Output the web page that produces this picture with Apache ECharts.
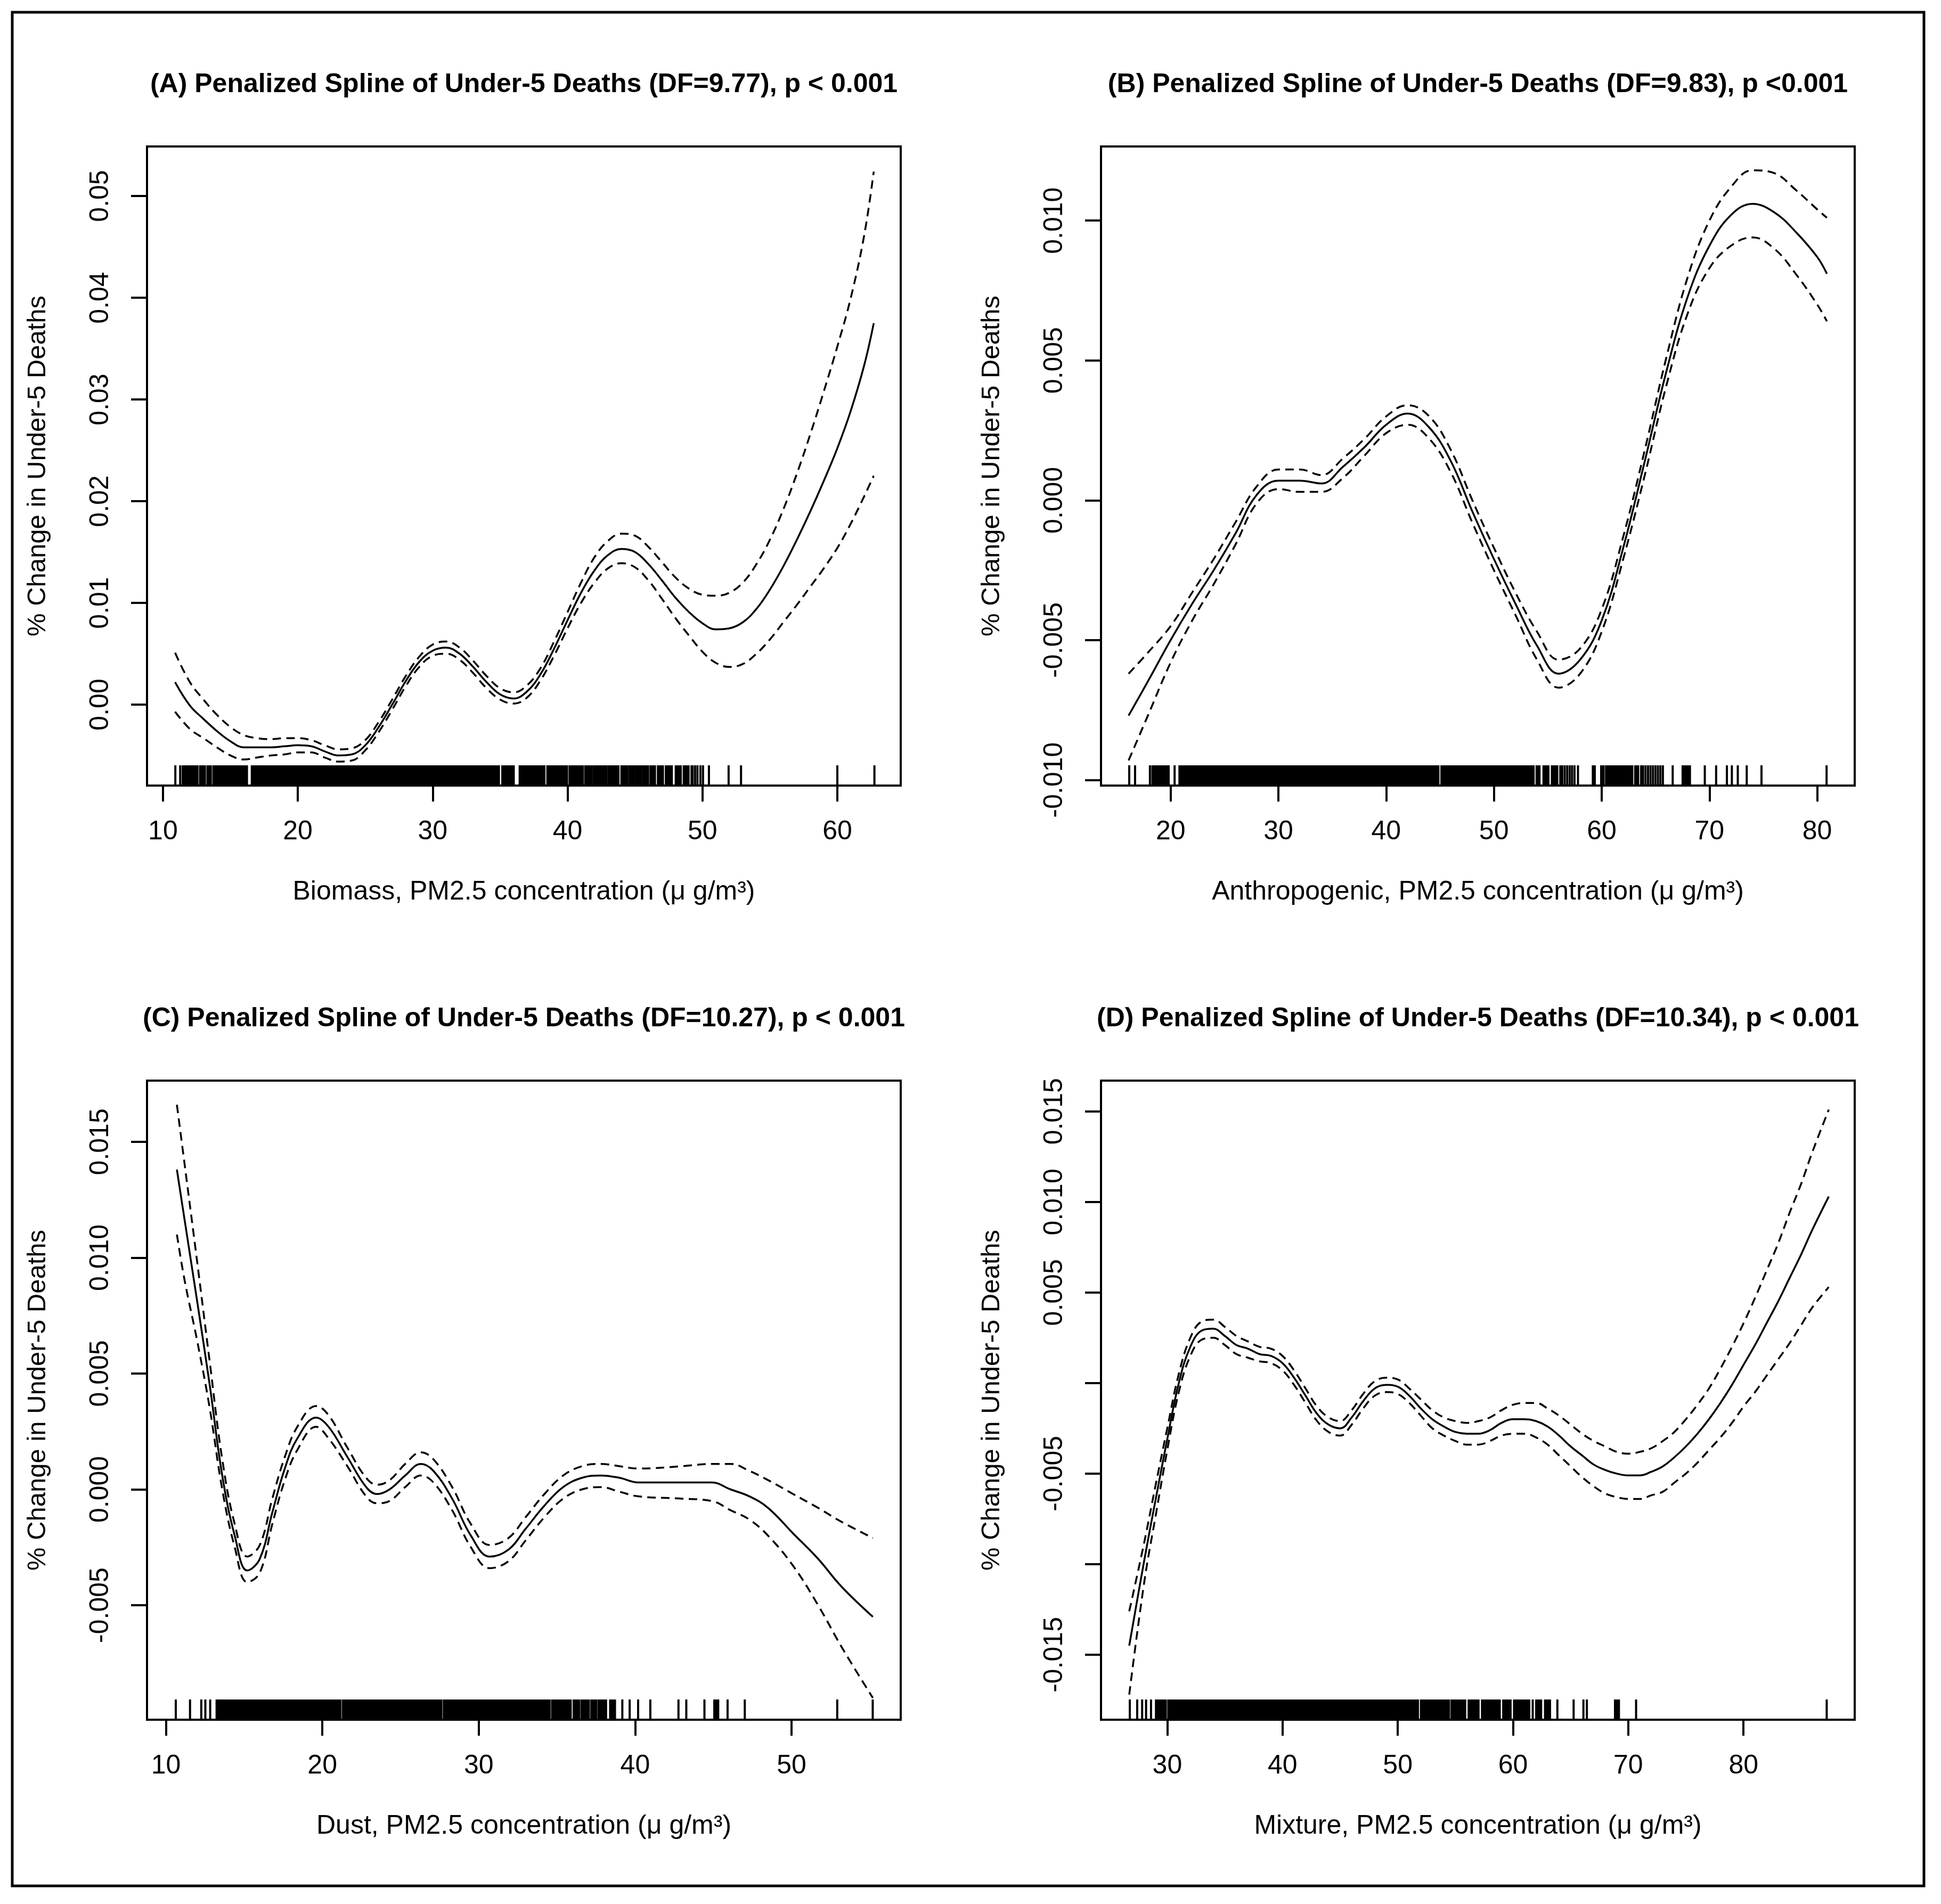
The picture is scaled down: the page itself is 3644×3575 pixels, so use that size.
<!DOCTYPE html>
<html>
<head>
<meta charset="utf-8">
<script src="https://cdn.jsdelivr.net/npm/echarts@6/dist/echarts.min.js"></script>
<style>
html,body{margin:0;padding:0;background:#fff;}
#chart{width:3644px;height:3575px;}
</style>
</head>
<body>
<div id="chart"></div>
<script>
// ---------------- DATA ----------------
const panelTitles = [
  '(A) Penalized Spline of Under-5 Deaths (DF=9.77), p < 0.001',
  '(B) Penalized Spline of Under-5 Deaths (DF=9.83), p <0.001',
  '(C) Penalized Spline of Under-5 Deaths (DF=10.27), p < 0.001',
  '(D) Penalized Spline of Under-5 Deaths (DF=10.34), p < 0.001'
];
const xAxisNames = [
  'Biomass, PM2.5 concentration (\u03bc g/m\u00b3)',
  'Anthropogenic, PM2.5 concentration (\u03bc g/m\u00b3)',
  'Dust, PM2.5 concentration (\u03bc g/m\u00b3)',
  'Mixture, PM2.5 concentration (\u03bc g/m\u00b3)'
];
const yAxisName = '% Change in Under-5 Deaths';

// Panel A: Biomass
const biomassX = [10.9,12,13,14,15,16,17,18,19,20,21,22,23,24,25,26,27,28,29,30,31,32,33,34,35,36,37,38,39,40,41,42,43,44,45,46,47,48,49,50,51,52,53,54,55,56,57,58,59,60,61,62,62.7];
const biomassFit = [0.0022,-0.0001,-0.0014,-0.0026,-0.0036,-0.0042,-0.0042,-0.0042,-0.0041,-0.0040,-0.0041,-0.0046,-0.0050,-0.0049,-0.0040,-0.0022,0.0000,0.0023,0.0042,0.0053,0.0056,0.0050,0.0037,0.0022,0.0010,0.0006,0.0013,0.0030,0.0055,0.0083,0.0110,0.0132,0.0147,0.0153,0.0150,0.0138,0.0122,0.0105,0.0091,0.0080,0.0074,0.0075,0.0081,0.0094,0.0113,0.0136,0.0162,0.0190,0.0220,0.0252,0.0289,0.0334,0.0375];
const biomassUpper = [0.0051,0.0022,0.0005,-0.0010,-0.0022,-0.0030,-0.0033,-0.0034,-0.0033,-0.0033,-0.0035,-0.0040,-0.0044,-0.0043,-0.0035,-0.0017,0.0005,0.0028,0.0047,0.0059,0.0062,0.0056,0.0043,0.0028,0.0016,0.0012,0.0019,0.0036,0.0062,0.0091,0.0120,0.0145,0.0161,0.0168,0.0166,0.0155,0.0140,0.0125,0.0114,0.0108,0.0107,0.0110,0.0120,0.0138,0.0162,0.0192,0.0227,0.0266,0.0308,0.0352,0.0400,0.0462,0.0524];
const biomassLower = [-0.0007,-0.0024,-0.0033,-0.0042,-0.0050,-0.0054,-0.0052,-0.0050,-0.0049,-0.0047,-0.0047,-0.0052,-0.0056,-0.0055,-0.0045,-0.0027,-0.0005,0.0018,0.0037,0.0048,0.0050,0.0044,0.0031,0.0016,0.0005,0.0001,0.0007,0.0024,0.0048,0.0075,0.0100,0.0120,0.0134,0.0139,0.0135,0.0122,0.0104,0.0085,0.0068,0.0052,0.0041,0.0037,0.0040,0.0050,0.0064,0.0081,0.0098,0.0116,0.0134,0.0154,0.0178,0.0205,0.0225];
const biomassRug = [[10.92,10.92],[11.28,11.28],[11.47,12.56],[12.75,13.11],[13.30,13.55],[13.74,16.23],[16.59,34.91],[35.16,36.01],[36.45,38.28],[38.50,39.96],[40.15,41.14],[41.32,41.79],[41.94,42.89],[43.04,43.26],[43.41,43.77],[43.99,44.43],[44.58,44.95],[45.09,45.46],[45.60,45.97],[46.15,46.48],[46.70,47.07],[47.29,47.73],[48.02,48.39],[48.61,48.97],[49.19,49.27],[49.45,49.45],[49.63,49.63],[49.85,49.85],[50.04,50.04],[50.48,50.48],[51.94,51.94],[52.86,52.86],[60.0,60.0],[62.75,62.75]];
const biomassXRange = [8.82, 64.7];
const biomassYRange = [-0.00796, 0.05487];
const biomassXTicks = [10,20,30,40,50,60];
const biomassYTicks = [0,0.01,0.02,0.03,0.04,0.05];
const biomassYLabelTicks = [0,0.01,0.02,0.03,0.04,0.05];
const biomassYLabels = ['0.00','0.01','0.02','0.03','0.04','0.05'];

// Panel B: Anthropogenic
const anthroX = [16.1,18,20,22,24,26,28,30,32,34,36,38,40,42,44,46,48,50,52,54,56,58,60,62,64,66,68,70,72,74,76,78,80,80.9];
const anthroFit = [-0.0077,-0.0064,-0.0050,-0.0037,-0.0025,-0.0012,0.0002,0.0007,0.0007,0.0006,0.0012,0.0019,0.0027,0.0031,0.0026,0.0014,-0.0004,-0.0021,-0.0037,-0.0052,-0.0062,-0.0057,-0.0043,-0.0017,0.0014,0.0046,0.0073,0.0091,0.0102,0.0106,0.0103,0.0096,0.0087,0.0081];
const anthroUpper = [-0.0062,-0.0054,-0.0045,-0.0033,-0.0021,-0.0008,0.0005,0.0011,0.0011,0.0009,0.0015,0.0022,0.0030,0.0034,0.0030,0.0018,0.0000,-0.0017,-0.0033,-0.0047,-0.0057,-0.0053,-0.0039,-0.0013,0.0018,0.0051,0.0080,0.0100,0.0112,0.0118,0.0117,0.0111,0.0104,0.0101];
const anthroLower = [-0.0093,-0.0076,-0.0058,-0.0043,-0.0030,-0.0016,-0.0001,0.0004,0.0003,0.0003,0.0008,0.0016,0.0024,0.0027,0.0022,0.0010,-0.0008,-0.0025,-0.0041,-0.0057,-0.0067,-0.0062,-0.0047,-0.0021,0.0009,0.0041,0.0067,0.0083,0.0091,0.0094,0.0090,0.0081,0.0070,0.0064];
const anthroRug = [[16.16,16.16],[16.70,16.70],[18.08,18.08],[18.31,19.82],[20.37,20.37],[20.82,44.85],[45.13,53.68],[53.96,54.23],[54.60,55.06],[55.38,55.88],[56.16,56.34],[56.57,56.57],[56.80,56.80],[57.03,57.03],[57.25,57.25],[57.48,57.48],[57.80,57.80],[59.18,59.36],[59.95,60.18],[60.41,61.10],[61.28,62.84],[63.11,63.39],[63.66,63.84],[64.07,64.07],[64.30,64.30],[64.53,64.53],[64.76,64.76],[64.99,64.99],[65.22,65.22],[65.45,65.45],[65.68,65.68],[66.59,66.59],[67.51,68.19],[69.57,69.57],[70.62,70.62],[71.62,71.62],[72.08,72.08],[72.63,72.63],[73.46,73.46],[74.83,74.83],[80.87,80.87]];
const anthroXRange = [13.54, 83.48];
const anthroYRange = [-0.0102, 0.01265];
const anthroXTicks = [20,30,40,50,60,70,80];
const anthroYTicks = [-0.010,-0.005,0,0.005,0.010];
const anthroYLabelTicks = [-0.010,-0.005,0,0.005,0.010];
const anthroYLabels = ['-0.010','-0.005','0.000','0.005','0.010'];

// Panel C: Dust
const dustX = [10.7,11.2,12,12.8,13.6,14.4,15.2,16,16.8,17.6,18.4,19.6,20.4,21.6,22.8,23.5,24.3,25.3,26.3,27.1,28.3,29.5,30.7,31.9,33,34.2,35.4,36.6,37.8,39,40.2,43,44.9,46.1,47.3,48.5,50.1,51.7,53.2,55.2];
const dustFit = [0.0138,0.0116,0.0081,0.0045,0.0006,-0.0020,-0.0035,-0.0030,-0.0010,0.0009,0.0022,0.0031,0.0027,0.0014,0.0001,-0.0002,0.0000,0.0006,0.0011,0.0008,-0.0004,-0.0020,-0.0029,-0.0026,-0.0017,-0.0007,0.0001,0.0005,0.0006,0.0005,0.0003,0.0003,0.0003,0.0000,-0.0003,-0.0008,-0.0019,-0.0030,-0.0042,-0.0055];
const dustUpper = [0.0166,0.0140,0.0098,0.0055,0.0013,-0.0015,-0.0029,-0.0024,-0.0004,0.0014,0.0027,0.0036,0.0032,0.0018,0.0005,0.0002,0.0004,0.0011,0.0016,0.0013,0.0001,-0.0015,-0.0024,-0.0021,-0.0012,-0.0002,0.0006,0.0010,0.0011,0.0010,0.0009,0.0010,0.0011,0.0011,0.0008,0.0004,-0.0002,-0.0008,-0.0014,-0.0021];
const dustLower = [0.0110,0.0090,0.0064,0.0035,0.0000,-0.0025,-0.0040,-0.0036,-0.0015,0.0004,0.0017,0.0027,0.0022,0.0010,-0.0003,-0.0006,-0.0005,0.0001,0.0006,0.0003,-0.0009,-0.0025,-0.0034,-0.0031,-0.0022,-0.0012,-0.0004,0.0000,0.0001,-0.0001,-0.0003,-0.0004,-0.0005,-0.0009,-0.0013,-0.0020,-0.0033,-0.0050,-0.0068,-0.0090];
const dustRug = [[10.63,10.63],[11.54,11.54],[12.26,12.26],[12.52,12.52],[12.83,12.83],[13.24,21.16],[21.32,27.61],[27.77,34.53],[34.69,35.88],[36.07,36.42],[36.57,37.04],[37.20,37.52],[37.67,38.14],[38.40,38.71],[39.18,39.18],[39.65,39.65],[40.19,40.19],[40.97,40.97],[42.77,42.77],[43.27,43.27],[44.43,44.43],[45.06,45.31],[45.91,45.91],[47.01,47.01],[52.92,52.92],[55.19,55.19]];
const dustXRange = [8.79, 56.98];
const dustYRange = [-0.00994, 0.01764];
const dustXTicks = [10,20,30,40,50];
const dustYTicks = [-0.005,0,0.005,0.010,0.015];
const dustYLabelTicks = [-0.005,0,0.005,0.010,0.015];
const dustYLabels = ['-0.005','0.000','0.005','0.010','0.015'];

// Panel D: Mixture
const mixtureX = [26.7,28,29,30,31,32,33,34,35,36,37,38,39,40,41,42,43,44,45,46,47,48,49,50,51,52,53,54,55,56,57,58,59,60,61,62,63,64,65,66,67,68,69,70,71,72,73,74,75,76,77,78,79,80,81,82,83,84,85,86,87.4];
const mixtureFit = [-0.0145,-0.0098,-0.0064,-0.0031,0.0000,0.0020,0.0029,0.0030,0.0026,0.0021,0.0019,0.0016,0.0015,0.0011,0.0003,-0.0007,-0.0017,-0.0023,-0.0025,-0.0019,-0.0010,-0.0003,-0.0001,-0.0002,-0.0007,-0.0014,-0.0020,-0.0024,-0.0027,-0.0028,-0.0028,-0.0026,-0.0022,-0.0020,-0.0020,-0.0021,-0.0024,-0.0029,-0.0035,-0.0040,-0.0045,-0.0048,-0.0050,-0.0051,-0.0051,-0.0049,-0.0046,-0.0041,-0.0035,-0.0028,-0.0020,-0.0011,-0.0001,0.0010,0.0021,0.0033,0.0045,0.0058,0.0071,0.0085,0.0103];
const mixtureUpper = [-0.0126,-0.0088,-0.0056,-0.0025,0.0005,0.0025,0.0034,0.0035,0.0031,0.0026,0.0023,0.0020,0.0019,0.0015,0.0007,-0.0003,-0.0013,-0.0019,-0.0021,-0.0015,-0.0006,0.0001,0.0003,0.0002,-0.0003,-0.0009,-0.0015,-0.0019,-0.0021,-0.0022,-0.0021,-0.0019,-0.0015,-0.0012,-0.0011,-0.0011,-0.0014,-0.0018,-0.0023,-0.0028,-0.0032,-0.0035,-0.0038,-0.0039,-0.0038,-0.0036,-0.0032,-0.0027,-0.0020,-0.0012,-0.0003,0.0008,0.0020,0.0033,0.0047,0.0062,0.0077,0.0094,0.0110,0.0128,0.0151];
const mixtureLower = [-0.0172,-0.0110,-0.0073,-0.0037,-0.0005,0.0015,0.0024,0.0025,0.0021,0.0016,0.0014,0.0012,0.0011,0.0007,-0.0001,-0.0011,-0.0021,-0.0027,-0.0029,-0.0023,-0.0014,-0.0007,-0.0005,-0.0006,-0.0011,-0.0018,-0.0025,-0.0029,-0.0032,-0.0034,-0.0034,-0.0032,-0.0029,-0.0028,-0.0028,-0.0030,-0.0034,-0.0040,-0.0046,-0.0052,-0.0057,-0.0061,-0.0063,-0.0064,-0.0064,-0.0062,-0.0060,-0.0055,-0.0050,-0.0044,-0.0037,-0.0030,-0.0022,-0.0013,-0.0005,0.0004,0.0013,0.0022,0.0032,0.0042,0.0053];
const mixtureRug = [[26.75,26.75],[27.39,27.39],[27.82,27.82],[28.16,28.16],[28.59,28.59],[29.02,29.87],[30.09,51.75],[52.01,54.44],[54.66,55.85],[56.15,57.01],[57.31,58.85],[59.15,59.79],[60.09,61.41],[61.71,61.71],[62.01,62.44],[62.78,63.21],[63.85,63.85],[65.26,65.26],[66.11,66.11],[66.41,66.41],[68.85,69.19],[70.68,70.68],[87.22,87.22]];
const mixtureXRange = [24.25, 89.65];
const mixtureYRange = [-0.01859, 0.0167];
const mixtureXTicks = [30,40,50,60,70,80];
const mixtureYTicks = [-0.015,-0.010,-0.005,0,0.005,0.010,0.015];
const mixtureYLabelTicks = [-0.015,-0.005,0.005,0.010,0.015];
const mixtureYLabels = ['-0.015','-0.005','0.005','0.010','0.015'];

// ---------------- BUILD ----------------
const FONT = '"Liberation Sans", Arial, Helvetica, sans-serif';
const panels = [
  {x: biomassX, fit: biomassFit, up: biomassUpper, lo: biomassLower, rug: biomassRug, xr: biomassXRange, yr: biomassYRange, xt: biomassXTicks, yt: biomassYTicks, ylt: biomassYLabelTicks, yl: biomassYLabels},
  {x: anthroX, fit: anthroFit, up: anthroUpper, lo: anthroLower, rug: anthroRug, xr: anthroXRange, yr: anthroYRange, xt: anthroXTicks, yt: anthroYTicks, ylt: anthroYLabelTicks, yl: anthroYLabels},
  {x: dustX, fit: dustFit, up: dustUpper, lo: dustLower, rug: dustRug, xr: dustXRange, yr: dustYRange, xt: dustXTicks, yt: dustYTicks, ylt: dustYLabelTicks, yl: dustYLabels},
  {x: mixtureX, fit: mixtureFit, up: mixtureUpper, lo: mixtureLower, rug: mixtureRug, xr: mixtureXRange, yr: mixtureYRange, xt: mixtureXTicks, yt: mixtureYTicks, ylt: mixtureYLabelTicks, yl: mixtureYLabels}
];
// layout (positions of the plot boxes)
const boxes = [
  {left: 276, top: 275}, {left: 2067, top: 275},
  {left: 276, top: 2029}, {left: 2067, top: 2029}
];
const BOX_W = 1415, BOX_H = 1200;

const zip = (xs, ys) => xs.map((v, i) => [v, ys[i]]);

const grids = [], xAxes = [], yAxes = [], series = [], graphics = [];
panels.forEach((p, i) => {
  const b = boxes[i];
  grids.push({left: b.left, top: b.top, width: BOX_W, height: BOX_H, show: true,
    borderColor: '#000', borderWidth: 4, backgroundColor: 'transparent', containLabel: false, outerBoundsMode: 'none'});
  xAxes.push({
    type: 'value', gridIndex: i, min: p.xr[0], max: p.xr[1], position: 'bottom',
    axisLine: {show: false, onZero: false}, splitLine: {show: false},
    axisTick: {show: true, length: 30, customValues: p.xt, lineStyle: {color: '#000', width: 4}},
    axisLabel: {show: true, customValues: p.xt, margin: 62, color: '#000', fontSize: 50, fontFamily: FONT,
      formatter: v => String(Math.round(v))},
    name: xAxisNames[i], nameLocation: 'middle', nameGap: 175,
    nameTextStyle: {color: '#000', fontSize: 50, fontFamily: FONT}
  });
  const labelFor = v => {
    const k = p.ylt.findIndex(t => Math.abs(t - v) < 1e-9);
    return k >= 0 ? p.yl[k] : '';
  };
  yAxes.push({
    type: 'value', gridIndex: i, min: p.yr[0], max: p.yr[1], position: 'left',
    axisLine: {show: false, onZero: false}, splitLine: {show: false},
    axisTick: {show: true, length: 30, customValues: p.yt, lineStyle: {color: '#000', width: 4}},
    axisLabel: {show: true, customValues: p.ylt, rotate: 90, margin: 62, color: '#000', fontSize: 50, fontFamily: FONT,
      formatter: labelFor},
    name: yAxisName, nameLocation: 'middle', nameGap: 180,
    nameTextStyle: {color: '#000', fontSize: 49, fontFamily: FONT}
  });
  const lineBase = {type: 'line', xAxisIndex: i, yAxisIndex: i, showSymbol: false, symbol: 'none', smooth: 0.4,
    silent: true, animation: false};
  series.push(Object.assign({}, lineBase, {name: 'fit' + i, data: zip(p.x, p.fit),
    lineStyle: {color: '#000', width: 3.5, type: 'solid'}}));
  series.push(Object.assign({}, lineBase, {name: 'upper' + i, data: zip(p.x, p.up),
    lineStyle: {color: '#000', width: 3.5, type: [16, 10]}}));
  series.push(Object.assign({}, lineBase, {name: 'lower' + i, data: zip(p.x, p.lo),
    lineStyle: {color: '#000', width: 3.5, type: [16, 10]}}));
  series.push({
    type: 'custom', name: 'rug' + i, xAxisIndex: i, yAxisIndex: i, silent: true, animation: false,
    data: p.rug,
    encode: {x: [0, 1]},
    renderItem: (params, api) => {
      const cs = params.coordSys;
      const x1 = api.coord([api.value(0), p.yr[0]])[0];
      const x2 = api.coord([api.value(1), p.yr[0]])[0];
      const bottom = cs.y + cs.height;
      return {type: 'rect', shape: {x: x1 - 2, y: bottom - 38, width: (x2 - x1) + 4, height: 38},
        style: {fill: '#000'}};
    }
  });
  graphics.push({type: 'text', x: b.left + BOX_W / 2, y: b.top - 116,
    style: {text: panelTitles[i], fill: '#000', font: 'bold 50px ' + FONT, textAlign: 'center', textVerticalAlign: 'middle'}});
});
// outer frame
graphics.push({type: 'rect', shape: {x: 23, y: 23, width: 3589, height: 3518},
  style: {fill: 'none', stroke: '#000', lineWidth: 5}});

const chart = echarts.init(document.getElementById('chart'), null, {renderer: 'canvas'});
chart.setOption({
  backgroundColor: '#fff',
  animation: false,
  grid: grids,
  xAxis: xAxes,
  yAxis: yAxes,
  series: series,
  graphic: {elements: graphics}
});
</script>
</body>
</html>
